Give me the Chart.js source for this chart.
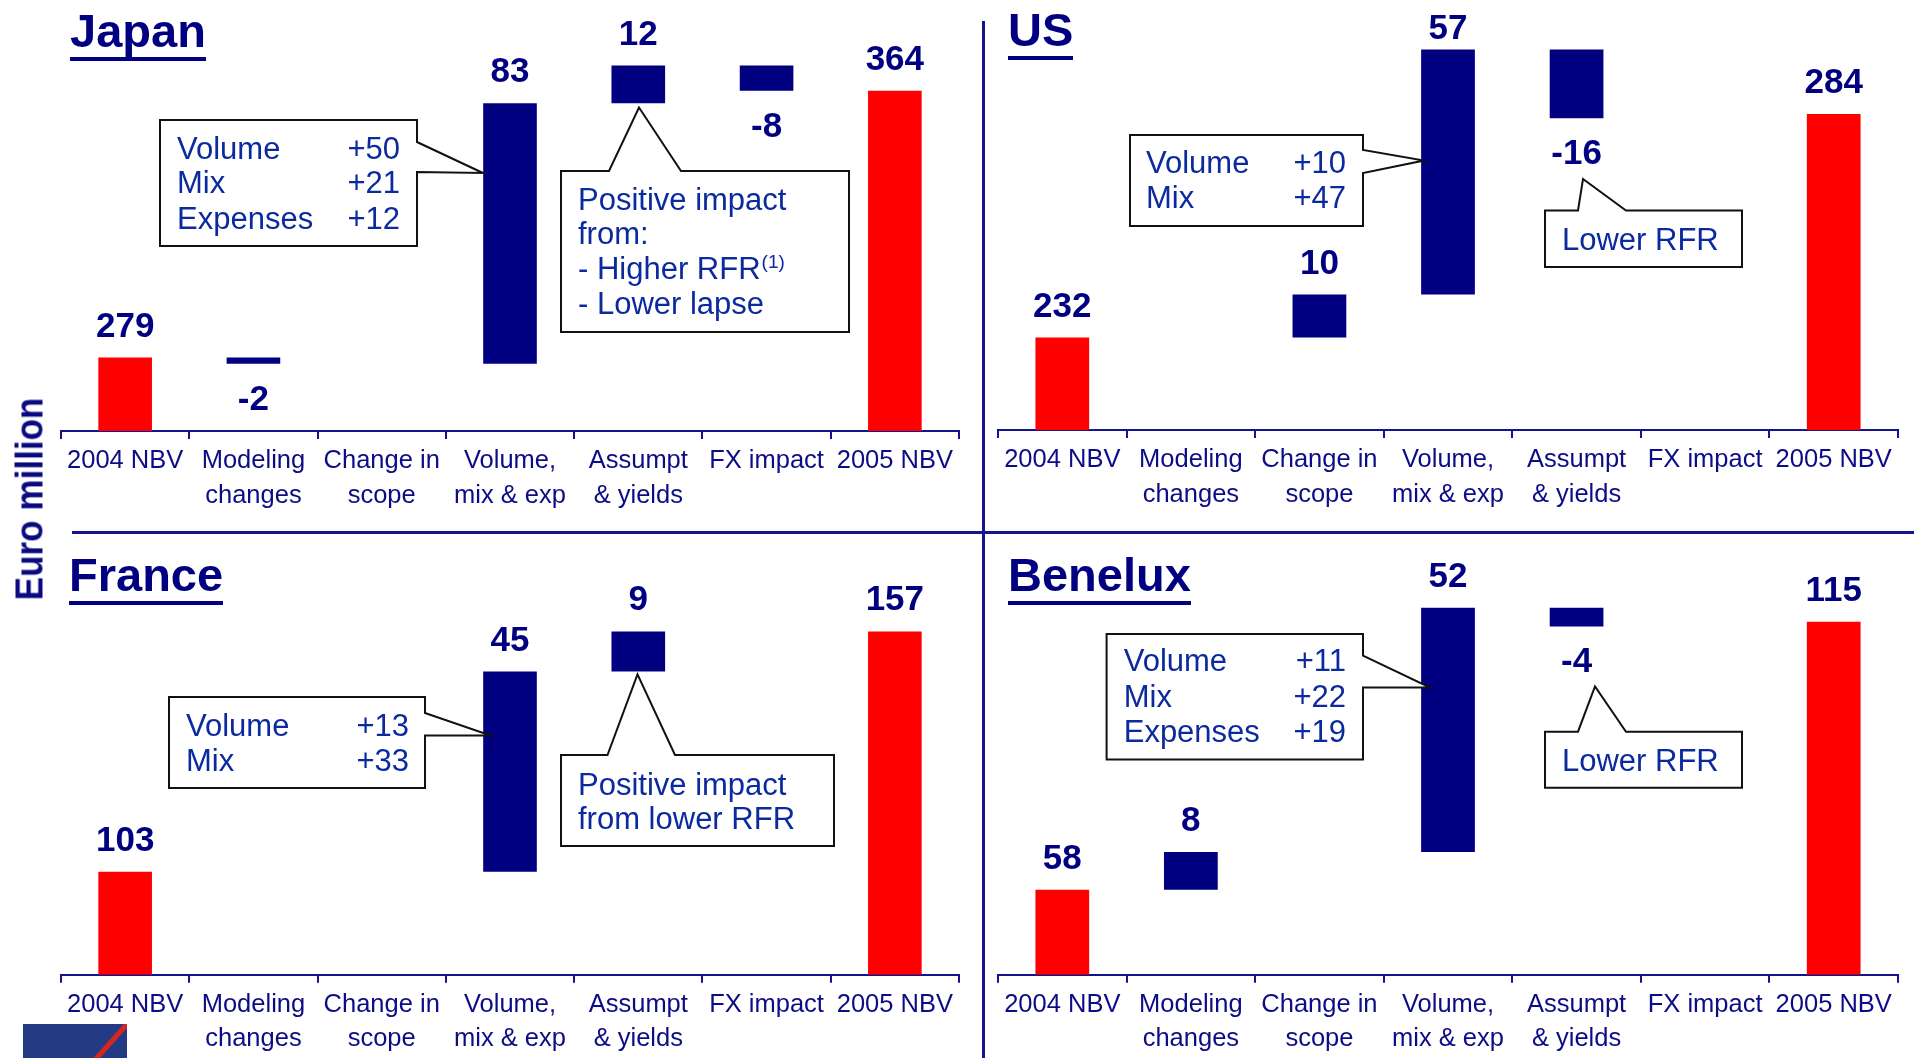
<!DOCTYPE html>
<html>
<head>
<meta charset="utf-8">
<script src="https://cdn.jsdelivr.net/npm/chart.js@4.4.1/dist/chart.umd.min.js"></script>
<style>
  html, body { margin: 0; padding: 0; background: #fff; }
  body { width: 1918px; height: 1058px; position: relative; overflow: hidden; font-family: "Liberation Sans", Arial, sans-serif; }
  canvas { position: absolute; }
  .title { position: absolute; font: bold 47px "Liberation Sans", Arial, sans-serif; line-height: 47px; color: #000080;
           border-bottom: 4.5px solid #000080; padding-bottom: 3px; white-space: nowrap; }
  .rule { position: absolute; background: #14148c; }
  #euro { position: absolute; left: 28.5px; top: 498.5px; font: bold 39px "Liberation Sans", Arial, sans-serif; line-height: 39px;
          color: #0a0a80; white-space: nowrap; transform: translate(-50%, -50%) rotate(-90deg) scaleX(0.9); }
  #logo { position: absolute; left: 23px; top: 1024px; width: 104px; height: 34px; background: #233b84; overflow: hidden; }
</style>
</head>
<body>
<canvas id="japan" width="940" height="530" style="left:40px;top:0px"></canvas>
<canvas id="us" width="933" height="530" style="left:985px;top:0px"></canvas>
<canvas id="france" width="940" height="523" style="left:40px;top:535px"></canvas>
<canvas id="benelux" width="933" height="523" style="left:985px;top:535px"></canvas>

<div class="rule" style="left:982px;top:21px;width:2.5px;height:1037px"></div>
<div class="rule" style="left:72px;top:531px;width:1842px;height:2.5px"></div>

<div class="title" style="left:70px;top:7px">Japan</div>
<div class="title" style="left:1008px;top:6px">US</div>
<div class="title" style="left:69px;top:550.5px">France</div>
<div class="title" style="left:1008px;top:550.5px">Benelux</div>

<div id="euro">Euro million</div>
<div id="logo"><svg width="104" height="34"><line x1="106" y1="-2" x2="71" y2="37" stroke="#d7261e" stroke-width="5"/></svg></div>

<script>
// ---------- data ----------
const categories = [['2004 NBV'], ['Modeling', 'changes'], ['Change in', 'scope'], ['Volume,', 'mix & exp'],
                    ['Assumpt', '& yields'], ['FX impact'], ['2005 NBV']];

const japanStart = 279;
const japanDeltas = [-2, 0, 83, 12, -8];
const japanEnd = 364;

const usStart = 232;
const usDeltas = [0, 10, 57, -16, 0];
const usEnd = 284;

const franceStart = 103;
const franceDeltas = [0, 0, 45, 9, 0];
const franceEnd = 157;

const beneluxStart = 58;
const beneluxDeltas = [8, 0, 52, -4, 0];
const beneluxEnd = 115;

// value-axis ranges (broken axes)
const japanRange = [255.6, 389.7];
const usRange = [210.5, 308.2];
const franceRange = [79.84, 176.44];
const beneluxRange = [39.9, 131.33];

// ---------- styles ----------
const NAVY = '#000080';
const RED = '#ff0000';
const AXIS = '#14148c';
const LABEL = '#0c0c86';
const NOTE = '#0b2a9e';
const FONT = '"Liberation Sans", Arial, sans-serif';

const valueLabels = {
  id: 'valueLabels',
  afterDatasetsDraw(chart) {
    const o = chart.options.plugins.valueLabels;
    const meta = chart.getDatasetMeta(0);
    const ctx = chart.ctx;
    ctx.save();
    ctx.font = 'bold 35px ' + FONT;
    ctx.fillStyle = NAVY;
    ctx.textAlign = 'center';
    ctx.textBaseline = 'alphabetic';
    meta.data.forEach((bar, i) => {
      if (o.texts[i] == null) return;
      const top = Math.min(bar.y, bar.base), bot = Math.max(bar.y, bar.base);
      const y = o.negative[i] ? bot + 46 : Math.max(top - 21, chart.chartArea.top + 29);
      ctx.fillText(o.texts[i], bar.x, y);
    });
    ctx.restore();
  }
};

const callouts = {
  id: 'callouts',
  afterDraw(chart) {
    const o = chart.options.plugins.callouts;
    const ctx = chart.ctx;
    const dx = -o.offset[0], dy = -o.offset[1];
    ctx.save();
    for (const c of o.items) {
      const x0 = c.box[0] + dx, y0 = c.box[1] + dy, x1 = c.box[2] + dx, y1 = c.box[3] + dy;
      const ax = c.apex[0] + dx, ay = c.apex[1] + dy;
      ctx.beginPath();
      if (c.side === 'right') {
        ctx.moveTo(x0, y0); ctx.lineTo(x1, y0); ctx.lineTo(x1, c.w[0] + dy); ctx.lineTo(ax, ay);
        ctx.lineTo(x1, c.w[1] + dy); ctx.lineTo(x1, y1); ctx.lineTo(x0, y1); ctx.closePath();
      } else {
        ctx.moveTo(x0, y0); ctx.lineTo(c.w[0] + dx, y0); ctx.lineTo(ax, ay); ctx.lineTo(c.w[1] + dx, y0);
        ctx.lineTo(x1, y0); ctx.lineTo(x1, y1); ctx.lineTo(x0, y1); ctx.closePath();
      }
      ctx.fillStyle = '#ffffff';
      ctx.fill();
      ctx.lineWidth = 2;
      ctx.lineJoin = 'miter';
      ctx.strokeStyle = '#111111';
      ctx.stroke();
      ctx.fillStyle = NOTE;
      ctx.textBaseline = 'alphabetic';
      for (const t of c.texts) {
        ctx.font = '31px ' + FONT;
        ctx.textAlign = t.right ? 'right' : 'left';
        ctx.fillText(t.s, t.x + dx, t.y + dy);
        if (t.sup) {
          const w = ctx.measureText(t.s).width;
          ctx.font = '19px ' + FONT;
          ctx.textAlign = 'left';
          ctx.fillText(t.sup, t.x + dx + w + 1, t.y + dy - 11);
        }
      }
    }
    ctx.restore();
  }
};

function makeChart(id, start, deltas, end, range, geo, notes) {
  const data = [[range[0], start]];
  const colors = [RED];
  const texts = [String(start)];
  const negative = [false];
  let cum = start;
  deltas.forEach(d => {
    if (d === 0) { data.push(null); texts.push(null); }
    else { data.push([cum, cum + d]); texts.push(String(d)); }
    colors.push(NAVY);
    negative.push(d < 0);
    cum += d;
  });
  data.push([range[0], end]);
  colors.push(RED);
  texts.push(String(end));
  negative.push(false);

  return new Chart(document.getElementById(id), {
    type: 'bar',
    data: { labels: categories, datasets: [{ data, backgroundColor: colors, borderWidth: 0,
            barPercentage: 0.418, categoryPercentage: 1 }] },
    options: {
      responsive: false, animation: false, devicePixelRatio: 1,
      layout: { padding: { left: geo.padL, right: geo.padR, top: 10, bottom: 0 } },
      plugins: {
        legend: { display: false }, tooltip: { enabled: false },
        valueLabels: { texts, negative },
        callouts: { offset: geo.offset, items: notes }
      },
      scales: {
        x: {
          grid: { display: true, drawOnChartArea: false, drawTicks: true, tickLength: 8, color: AXIS, lineWidth: 2, offset: true },
          border: { display: true, color: AXIS, width: 2 },
          ticks: { color: LABEL, font: { family: FONT, size: 25.5, lineHeight: 1.353 }, padding: 5,
                   maxRotation: 0, minRotation: 0, autoSkip: false },
          afterFit: s => { s.height = geo.axisH; }
        },
        y: { display: false, min: range[0], max: range[1] }
      }
    },
    plugins: [valueLabels, callouts]
  });
}

makeChart('japan', japanStart, japanDeltas, japanEnd, japanRange,
  { padL: 21, padR: 21, axisH: 99, offset: [40, 0] },
  [
    { box: [160, 120, 417, 246], side: 'right', w: [142, 172], apex: [483, 173], texts: [
      { x: 177, y: 159, s: 'Volume' }, { x: 400, y: 159, s: '+50', right: true },
      { x: 177, y: 193, s: 'Mix' }, { x: 400, y: 193, s: '+21', right: true },
      { x: 177, y: 229, s: 'Expenses' }, { x: 400, y: 229, s: '+12', right: true } ] },
    { box: [561, 171, 849, 332], side: 'top', w: [609, 681], apex: [639, 107.5], texts: [
      { x: 578, y: 209.6, s: 'Positive impact' }, { x: 578, y: 244, s: 'from:' },
      { x: 578, y: 279, s: '- Higher RFR', sup: '(1)' }, { x: 578, y: 314, s: '- Lower lapse' } ] }
  ]);

makeChart('us', usStart, usDeltas, usEnd, usRange,
  { padL: 13, padR: 20, axisH: 100, offset: [985, 0] },
  [
    { box: [1130, 135, 1363, 226], side: 'right', w: [150, 173], apex: [1424, 160.6], texts: [
      { x: 1146, y: 173, s: 'Volume' }, { x: 1346, y: 173, s: '+10', right: true },
      { x: 1146, y: 208, s: 'Mix' }, { x: 1346, y: 208, s: '+47', right: true } ] },
    { box: [1545, 210.6, 1742, 267], side: 'top', w: [1578, 1626], apex: [1583, 179], texts: [
      { x: 1562, y: 249.5, s: 'Lower RFR' } ] }
  ]);

makeChart('france', franceStart, franceDeltas, franceEnd, franceRange,
  { padL: 21, padR: 21, axisH: 83.3, offset: [40, 535] },
  [
    { box: [169, 697, 425, 788], side: 'right', w: [713, 735.5], apex: [490.6, 735.5], texts: [
      { x: 186, y: 736, s: 'Volume' }, { x: 409, y: 736, s: '+13', right: true },
      { x: 186, y: 771, s: 'Mix' }, { x: 409, y: 771, s: '+33', right: true } ] },
    { box: [561, 755, 834, 846], side: 'top', w: [607.5, 675], apex: [637.5, 674.4], texts: [
      { x: 578, y: 794.5, s: 'Positive impact' }, { x: 578, y: 829, s: 'from lower RFR' } ] }
  ]);

makeChart('benelux', beneluxStart, beneluxDeltas, beneluxEnd, beneluxRange,
  { padL: 13, padR: 20, axisH: 83.3, offset: [985, 535] },
  [
    { box: [1106.6, 634, 1363, 759.5], side: 'right', w: [655.6, 687.5], apex: [1430, 687.5], texts: [
      { x: 1123.7, y: 671, s: 'Volume' }, { x: 1346, y: 671, s: '+11', right: true },
      { x: 1123.7, y: 707, s: 'Mix' }, { x: 1346, y: 707, s: '+22', right: true },
      { x: 1123.7, y: 742, s: 'Expenses' }, { x: 1346, y: 742, s: '+19', right: true } ] },
    { box: [1545, 731.7, 1742, 787.7], side: 'top', w: [1578, 1626], apex: [1595, 686.4], texts: [
      { x: 1562, y: 770.5, s: 'Lower RFR' } ] }
  ]);
</script>
</body>
</html>
